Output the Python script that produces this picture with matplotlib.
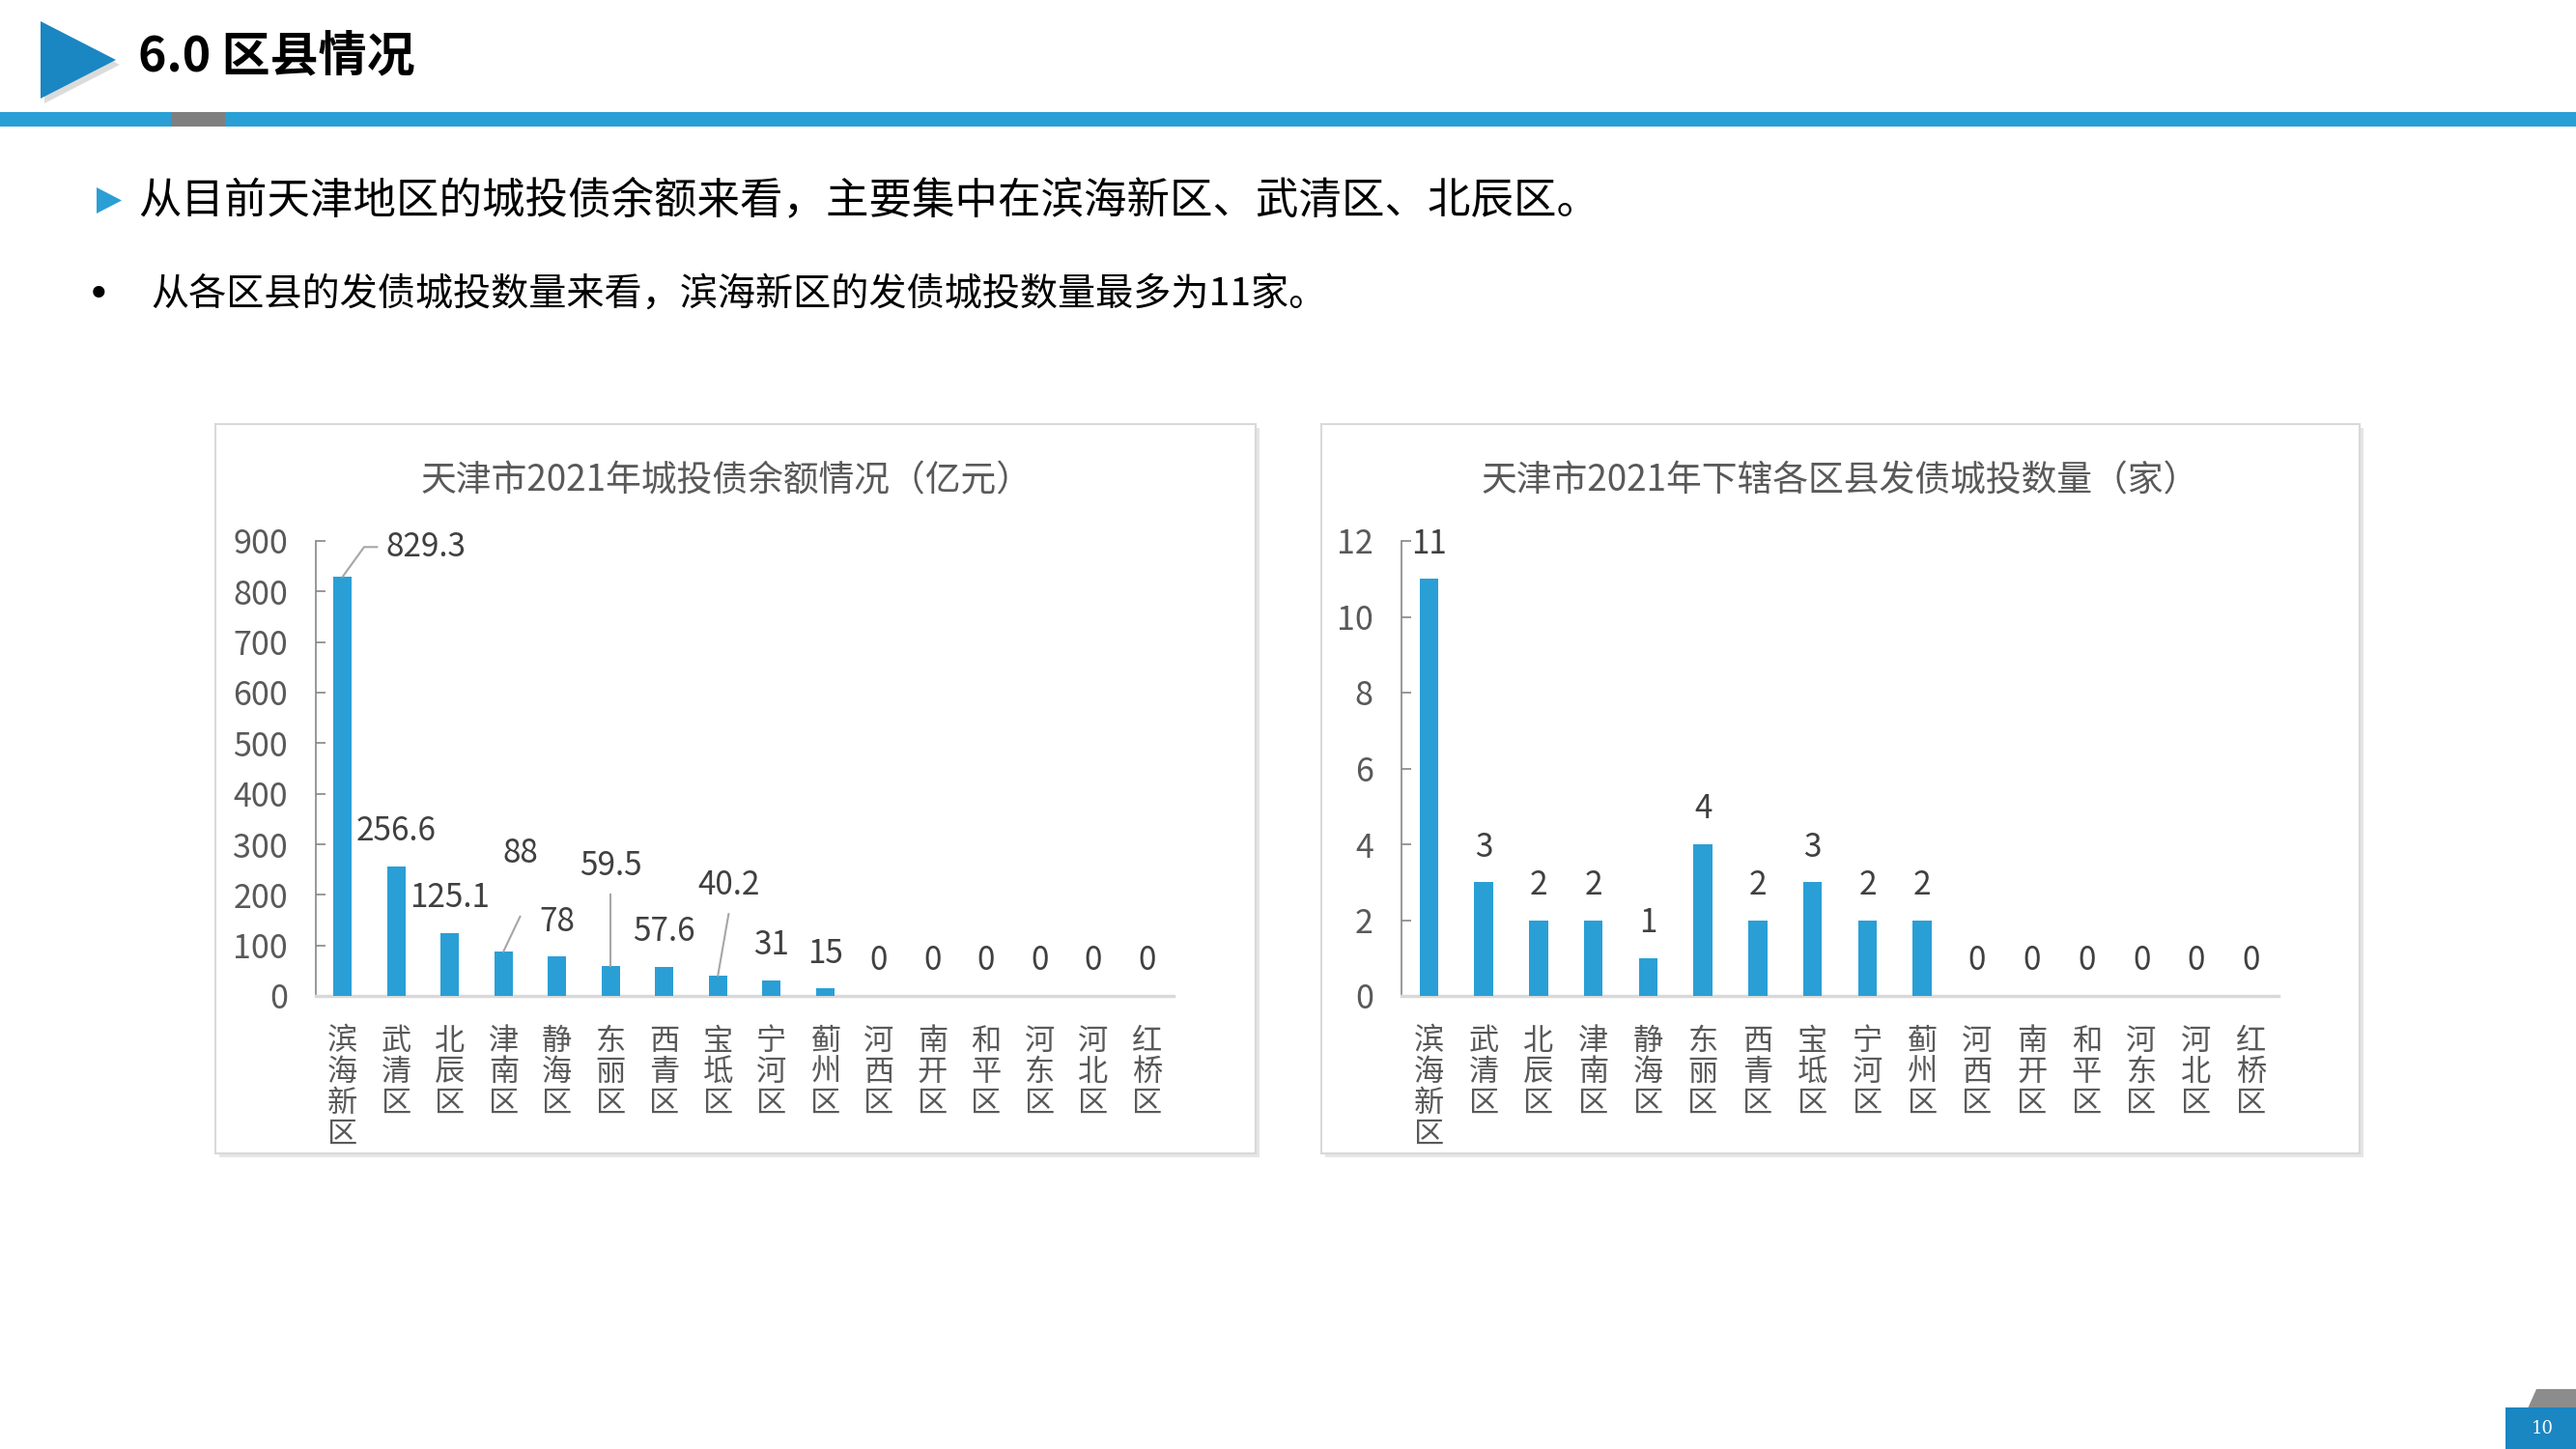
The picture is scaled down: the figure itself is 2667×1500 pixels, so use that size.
import matplotlib
matplotlib.use('Agg')
import matplotlib.pyplot as plt
from matplotlib.patches import Rectangle, Polygon
import numpy as np

plt.rcParams['font.family'] = ['Noto Sans CJK SC', 'DejaVu Sans']

# ---------------- data ----------------
districts = ['滨海新区', '武清区', '北辰区', '津南区', '静海区', '东丽区', '西青区', '宝坻区',
             '宁河区', '蓟州区', '河西区', '南开区', '和平区', '河东区', '河北区', '红桥区']
balance = [829.3, 256.6, 125.1, 88, 78, 59.5, 57.6, 40.2, 31, 15, 0, 0, 0, 0, 0, 0]
counts = [11, 3, 2, 2, 1, 4, 2, 3, 2, 2, 0, 0, 0, 0, 0, 0]
balance_ticks = [0, 100, 200, 300, 400, 500, 600, 700, 800, 900]
count_ticks = [0, 2, 4, 6, 8, 10, 12]
header_title = '6.0 区县情况'
point1 = '从目前天津地区的城投债余额来看，主要集中在滨海新区、武清区、北辰区。'
point2 = '从各区县的发债城投数量来看，滨海新区的发债城投数量最多为11家。'
title_left = '天津市2021年城投债余额情况（亿元）'
title_right = '天津市2021年下辖各区县发债城投数量（家）'
page_no = '10'

# ---------------- style ----------------
W, H = 2667, 1500
BLUE = '#2A9FD6'
DARK_BLUE = '#1A86C2'
GRAY_TXT = '#595959'
LBL_TXT = '#404040'

fig = plt.figure(figsize=(W / 100, H / 100), dpi=100)


def fx(px):
    return px / W


def fy(py):
    return 1 - py / H


def rect(x0, y0, x1, y1, **kw):
    r = Rectangle((fx(x0), fy(y1)), fx(x1) - fx(x0), fy(y0) - fy(y1),
                  transform=fig.transFigure, **kw)
    fig.add_artist(r)
    return r


def poly(pts, **kw):
    p = Polygon([(fx(a), fy(b)) for a, b in pts], closed=True,
                transform=fig.transFigure, **kw)
    fig.add_artist(p)
    return p


# header
poly([(46, 27), (46, 107), (124, 67)], color='#9a9a9a', alpha=0.35, lw=0)
poly([(42, 22), (42, 102), (120, 62)], color=DARK_BLUE, lw=0)
fig.text(fx(143), fy(60), header_title, fontsize=36, fontweight='bold',
         color='black', va='center', ha='left')
rect(0, 116, W, 131, color=BLUE, lw=0)
rect(177, 116, 233, 131, color='#7F7F7F', lw=0)

# bullet lines
poly([(100, 194), (100, 221), (126, 207.5)], color=BLUE, lw=0)
fig.text(fx(143), fy(207), point1, fontsize=32, color='black', va='center', ha='left')
fig.text(fx(102), fy(306), '•', fontsize=30, color='black', va='center', ha='center',
         family='DejaVu Sans')
fig.text(fx(156), fy(306), point2, fontsize=28.2, color='black', va='center', ha='left')

# chart boxes
for (x0, x1) in [(223, 1300), (1368, 2443)]:
    rect(x0 + 4, 439 + 4, x1 + 4, 1194 + 4, facecolor='#e6e6e6', edgecolor='none', zorder=0)
    rect(x0, 439, x1, 1194, facecolor='white', edgecolor='#d9d9d9', lw=1.5, zorder=0.5)

# page number
poly([(2617, 1458), (2626, 1438), (2667, 1438), (2667, 1458)], color='#8C8C8C', lw=0)
rect(2594, 1457, 2667, 1500, color=DARK_BLUE, lw=0)
fig.text(fx(2632), fy(1479), page_no, fontsize=13, color='white', family='DejaVu Serif',
         va='center', ha='center')


def draw(ax, vals, ticks, ymax, leaders):
    x = np.arange(len(districts))
    ax.bar(x, vals, width=0.34, color=BLUE, zorder=3)
    ax.set_xlim(-0.5, len(districts) - 0.5)
    ax.set_ylim(0, ymax)
    ax.set_yticks(ticks)
    ax.set_xticks(x)
    ax.set_xticklabels(['\n'.join(d) for d in districts], fontsize=22.5, color=GRAY_TXT,
                       linespacing=1.0, va='top')
    ax.tick_params(axis='x', length=0, pad=22)
    ax.tick_params(axis='y', direction='in', length=7, width=1.2, color='#868686',
                   labelsize=24.5, labelcolor=GRAY_TXT, pad=21)
    for s in ['top', 'right']:
        ax.spines[s].set_visible(False)
    ax.spines['left'].set_color('#868686')
    ax.spines['left'].set_linewidth(1.2)
    ax.spines['bottom'].set_color('#d9d9d9')
    ax.spines['bottom'].set_linewidth(2.5)
    ax.patch.set_alpha(0)
    for i, v in enumerate(vals):
        txt = f'{v:g}'
        if i in leaders:
            path, (tx, ty), ha = leaders[i]
            xs = [i] + [p[0] for p in path]
            ys = [v] + [p[1] for p in path]
            ax.plot(xs, ys, color='#a6a6a6', lw=1.5, zorder=4, clip_on=False)
            ax.text(tx, ty, txt, ha=ha, va='center', fontsize=24, color=LBL_TXT, clip_on=False)
        else:
            ax.annotate(txt, (i, v), xytext=(0, 26), textcoords='offset points',
                        ha='center', va='center', fontsize=24, color=LBL_TXT,
                        annotation_clip=False)


ax1 = fig.add_axes([fx(327), fy(1031), fx(1215) - fx(327), fy(560) - fy(1031)], zorder=2)
ax2 = fig.add_axes([fx(1451), fy(1031), fx(2359) - fx(1451), fy(560) - fy(1031)], zorder=2)

left_leaders = {
    0: ([(0.40, 888), (0.64, 888)], (0.80, 888), 'left'),
    3: ([(3.31, 157)], (3.31, 281), 'center'),
    5: ([(5.0, 200)], (5.0, 257), 'center'),
    7: ([(7.2, 162)], (7.2, 219), 'center'),
}
draw(ax1, balance, balance_ticks, 900, left_leaders)
draw(ax2, counts, count_ticks, 12, {})

fig.text(fx(752), fy(498), title_left, fontsize=26.5, color=GRAY_TXT, ha='center', va='center',
         zorder=3)
fig.text(fx(1905), fy(498), title_right, fontsize=26.5, color=GRAY_TXT, ha='center', va='center',
         zorder=3)

fig.savefig('out.png', dpi=100, facecolor='white')
